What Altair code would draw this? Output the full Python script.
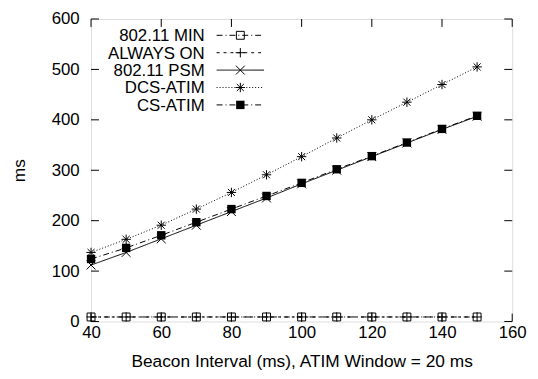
import altair as alt
import pandas as pd

# ---- data ----
beacon = [40, 50, 60, 70, 80, 90, 100, 110, 120, 130, 140, 150]
min_80211 = [9, 9, 9, 9, 9, 9, 9, 9, 9, 9, 9, 9]
always_on = [9, 9, 9, 9, 9, 9, 9, 9, 9, 9, 9, 9]
psm_80211 = [112, 137, 164, 191, 218, 245, 273, 300, 327, 354, 381, 407]
dcs_atim = [137, 163, 191, 223, 256, 291, 327, 364, 400, 435, 470, 505]
cs_atim = [124, 146, 171, 197, 223, 249, 275, 302, 328, 355, 382, 408]

series_names = ["802.11 MIN", "ALWAYS ON", "802.11 PSM", "DCS-ATIM", "CS-ATIM"]
series_values = [min_80211, always_on, psm_80211, dcs_atim, cs_atim]

x_ticks = [40, 60, 80, 100, 120, 140, 160]
y_ticks = [0, 100, 200, 300, 400, 500, 600]

# ---- styles ----
PLUS = "M-1,0L1,0M0,-1L0,1"
XMARK = "M-1,-1L1,1M-1,1L1,-1"
STAR = "M-1,0L1,0M0,-1L0,1M-0.75,-0.75L0.75,0.75M-0.75,0.75L0.75,-0.75"
styles = {
    "802.11 MIN": dict(dash=[6, 3, 1, 3], shape="square", filled=False, size=64),
    "ALWAYS ON": dict(dash=[3, 4], shape=PLUS, filled=False, size=90),
    "802.11 PSM": dict(dash=[1, 0], shape=XMARK, filled=False, size=80),
    "DCS-ATIM": dict(dash=[1, 2], shape=STAR, filled=False, size=90),
    "CS-ATIM": dict(dash=[6, 3, 1, 3], shape="square", filled=True, size=72),
}

W, H = 426, 306
FONT = "Liberation Sans"
FS = 17
TFS = 17.5
LFS = 17

rows = []
for name, vals in zip(series_names, series_values):
    for xv, yv in zip(beacon, vals):
        rows.append({"series": name, "x": xv, "y": yv})
df = pd.DataFrame(rows)

xscale = alt.Scale(domain=[40, 160], nice=False, zero=False)
yscale = alt.Scale(domain=[0, 600], nice=False, zero=False)

X = alt.X("x:Q", scale=xscale,
          axis=alt.Axis(values=x_ticks, ticks=False, domain=False, grid=False,
                        labelFont=FONT, labelFontSize=FS, labelColor="black",
                        labelPadding=3, labelFlush=False, format="d",
                        title="Beacon Interval (ms), ATIM Window = 20 ms",
                        titleFont=FONT, titleFontSize=TFS, titleFontWeight="normal",
                        titleColor="black", titlePadding=13))
Y = alt.Y("y:Q", scale=yscale,
          axis=alt.Axis(values=y_ticks, ticks=False, domain=False, grid=False,
                        labelFont=FONT, labelFontSize=FS, labelColor="black",
                        labelPadding=12, labelFlush=False, format="d",
                        title="ms", titleFont=FONT, titleFontSize=TFS,
                        titleFontWeight="normal", titleColor="black",
                        titleX=-63, titleY=H / 2))

layers = []
for name in series_names:
    st = styles[name]
    base = alt.Chart(df).transform_filter(alt.datum.series == name)
    layers.append(base.mark_line(color="black", strokeWidth=1,
                                 strokeDash=st["dash"]).encode(x=X, y=Y))
    layers.append(base.mark_point(shape=st["shape"], filled=st["filled"],
                                  size=st["size"], color="black", strokeWidth=1,
                                  opacity=1).encode(x=X, y=Y))

# inward ticks on all four sides
xt = pd.DataFrame({"x": x_ticks})
yt = pd.DataFrame({"y": y_ticks})
tick = dict(color="black", strokeWidth=1)
layers.append(alt.Chart(xt).mark_rule(**tick).encode(
    x=alt.X("x:Q", scale=xscale), y=alt.value(H), y2=alt.value(H - 8)))
layers.append(alt.Chart(xt).mark_rule(**tick).encode(
    x=alt.X("x:Q", scale=xscale), y=alt.value(0), y2=alt.value(8)))
layers.append(alt.Chart(yt).mark_rule(**tick).encode(
    y=alt.Y("y:Q", scale=yscale), x=alt.value(0), x2=alt.value(8)))
layers.append(alt.Chart(yt).mark_rule(**tick).encode(
    y=alt.Y("y:Q", scale=yscale), x=alt.value(W), x2=alt.value(W - 8)))

# gnuplot-style key, top left inside the frame
one = pd.DataFrame({"k": [0]})
for i, name in enumerate(series_names):
    st = styles[name]
    yy = 16.5 + 17.6 * i
    layers.append(alt.Chart(one).mark_text(text=name, align="right", baseline="middle",
                                           font=FONT, fontSize=LFS, color="black").encode(
        x=alt.value(115), y=alt.value(yy + 1)))
    layers.append(alt.Chart(one).mark_rule(color="black", strokeWidth=1,
                                           strokeDash=st["dash"]).encode(
        x=alt.value(127), x2=alt.value(175), y=alt.value(yy)))
    layers.append(alt.Chart(one).mark_point(shape=st["shape"], filled=st["filled"],
                                            size=st["size"], color="black",
                                            strokeWidth=1, opacity=1).encode(
        x=alt.value(151), y=alt.value(yy)))

chart = alt.layer(*layers).properties(
    width=W, height=H,
    autosize=alt.AutoSizeParams(type="none"),
    padding={"left": 84, "top": 9, "right": 18, "bottom": 54},
).configure_view(stroke="black", strokeWidth=1.5).configure(background="white")

chart.save("out.html", embed_options={"renderer": "svg", "actions": False})
